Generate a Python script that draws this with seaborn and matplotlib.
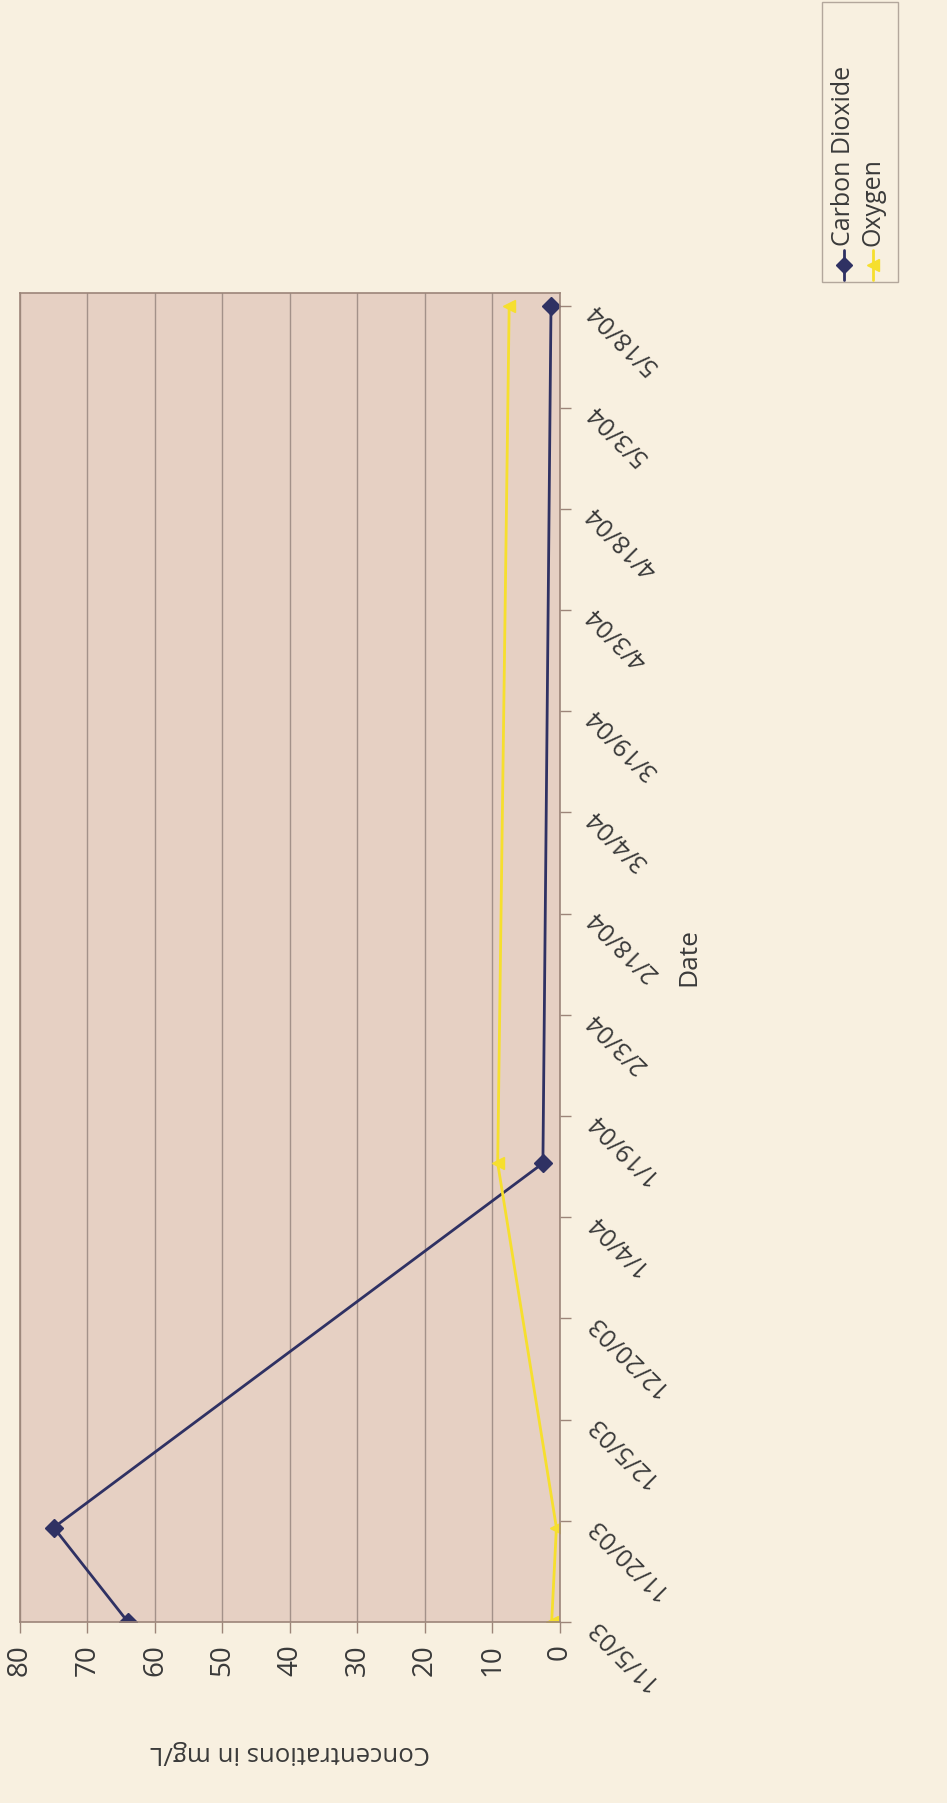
import matplotlib
matplotlib.use("Agg")
import matplotlib.pyplot as plt
import numpy as np
import pandas as pd
import seaborn as sns
from matplotlib.lines import Line2D
from matplotlib.patches import Rectangle

# ---- data -------------------------------------------------------------
sample_dates = ["2003-11-05", "2003-11-19", "2004-01-12", "2004-05-18"]
carbon_dioxide = [64, 75, 2.5, 1.3]
oxygen = [1.2, 0.5, 9.2, 7.5]

date_ticks = ["2003-11-05", "2003-11-20", "2003-12-05", "2003-12-20",
              "2004-01-04", "2004-01-19", "2004-02-03", "2004-02-18",
              "2004-03-04", "2004-03-19", "2004-04-03", "2004-04-18",
              "2004-05-03", "2004-05-18"]
date_labels = ["11/5/03", "11/20/03", "12/5/03", "12/20/03", "1/4/04",
               "1/19/04", "2/3/04", "2/18/04", "3/4/04", "3/19/04",
               "4/3/04", "4/18/04", "5/3/04", "5/18/04"]
value_ticks = [0, 10, 20, 30, 40, 50, 60, 70, 80]
series_names = ["Carbon Dioxide", "Oxygen"]

# ---- styling ----------------------------------------------------------
PAGE = "#f8f0e0"
PLOT_BG = "#e6d0c3"
GRID = "#a39189"
EDGE = "#9c8579"
NAVY = "#2f3163"
YELLOW = "#f6df2e"
TEXT = "#3a3a3a"

sns.set_theme(style="white")
plt.rcParams["font.family"] = ["Open Sans", "DejaVu Sans"]

df = pd.DataFrame({
    "date": pd.to_datetime(sample_dates * 2),
    "value": carbon_dioxide + oxygen,
    "series": [series_names[0]] * len(sample_dates) + [series_names[1]] * len(sample_dates),
})

fig = plt.figure(figsize=(9.47, 18.03), dpi=100, facecolor=PAGE)
ax = fig.add_axes([0.0211, 0.1004, 0.570, 0.7371])
ax.set_facecolor(PLOT_BG)

palette = {series_names[0]: NAVY, series_names[1]: YELLOW}
markers = {series_names[0]: "D", series_names[1]: "<"}
sns.lineplot(data=df, x="value", y="date", hue="series", style="series",
             palette=palette, markers=markers, dashes=False, sort=False,
             orient="y", linewidth=2.0, markersize=9, legend=False, ax=ax)
for ln in ax.get_lines():
    ln.set_markeredgecolor(ln.get_color())
    ln.set_markeredgewidth(1.0)

# value axis runs right-to-left along the bottom
ax.set_xlim(80, 0)
ax.set_xticks(value_ticks)
ax.set_xticklabels([str(v) for v in value_ticks], rotation=90,
                   fontsize=20, color=TEXT)
ax.xaxis.grid(True, color=GRID, linewidth=1.0)
ax.yaxis.grid(False)

# date axis runs bottom-to-top on the right
tick_dt = pd.to_datetime(date_ticks)
ax.set_ylim(pd.Timestamp("2003-11-05"), pd.Timestamp("2004-05-20"))
ax.yaxis.tick_right()
ax.set_yticks(tick_dt)
ax.set_yticklabels(date_labels, rotation=135, rotation_mode="anchor",
                   ha="right", va="center", fontsize=18, color=TEXT)

ax.tick_params(axis="x", direction="out", length=8, width=1, color=EDGE,
               pad=8, bottom=True)
ax.tick_params(axis="y", direction="out", length=8, width=1, color=EDGE,
               pad=14, right=True, left=False)

for s in ax.spines.values():
    s.set_color(EDGE)
    s.set_linewidth(1.2)

ax.set_xlabel("Concentrations in mg/L", rotation=180, fontsize=18.5,
              color=TEXT, va="center", ha="center")
ax.xaxis.set_label_coords(0.5, -0.098)
ax.yaxis.set_label_position("right")
ax.set_ylabel("Date", rotation=90, fontsize=19, color=TEXT,
              va="center", ha="center")
ax.yaxis.set_label_coords(1.239, 0.5)

# ---- legend, drawn upright in the same rotated frame --------------------
W, H = 947.0, 1803.0
def fx(px):
    return px / W
def fy(py):
    return 1.0 - py / H

fig.patches.append(Rectangle((fx(822), fy(282)), fx(898) - fx(822),
                             fy(2) - fy(282), transform=fig.transFigure,
                             facecolor=PAGE, edgecolor="#b3a79c",
                             linewidth=1.0))
key_x = [844, 873]
for name, kx in zip(series_names, key_x):
    fig.lines.append(Line2D([fx(kx), fx(kx)], [fy(280), fy(250)],
                            transform=fig.transFigure, color=palette[name],
                            linewidth=2.0))
    fig.lines.append(Line2D([fx(kx)], [fy(265)], transform=fig.transFigure,
                            color=palette[name], marker=markers[name],
                            markersize=8, markeredgecolor=palette[name],
                            linestyle="none"))
    fig.text(fx(kx), fy(246), name, rotation=90, rotation_mode="anchor",
             ha="left", va="center", fontsize=18, color=TEXT)

fig.savefig("out.png", dpi=100, facecolor=PAGE)
